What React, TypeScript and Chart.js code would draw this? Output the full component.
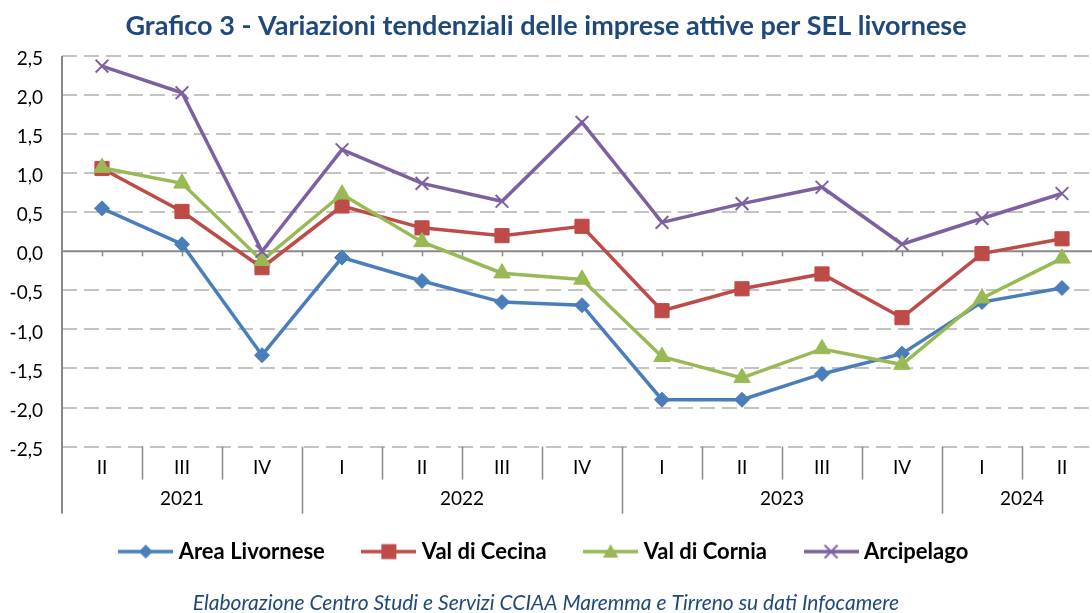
import React, { useEffect, useRef } from 'react';
import { Chart, registerables } from 'chart.js';

Chart.register(...registerables);

// ---- Data ----
const quarters = ['II', 'III', 'IV', 'I', 'II', 'III', 'IV', 'I', 'II', 'III', 'IV', 'I', 'II'];
const years = ['2021', '2022', '2023', '2024'];
const yearSizes = [3, 4, 4, 2];
const areaLivornese = [0.55, 0.09, -1.33, -0.08, -0.38, -0.65, -0.69, -1.9, -1.9, -1.57, -1.31, -0.65, -0.47];
const valDiCecina = [1.06, 0.51, -0.21, 0.58, 0.3, 0.2, 0.32, -0.76, -0.48, -0.29, -0.85, -0.03, 0.16];
const valDiCornia = [1.07, 0.87, -0.12, 0.73, 0.12, -0.28, -0.36, -1.35, -1.62, -1.25, -1.45, -0.6, -0.09];
const arcipelago = [2.37, 2.03, 0.0, 1.3, 0.87, 0.64, 1.65, 0.37, 0.61, 0.82, 0.09, 0.42, 0.74];
const seriesNames = ['Area Livornese', 'Val di Cecina', 'Val di Cornia', 'Arcipelago'];
const seriesColors = ['#4A7EBB', '#BE4B48', '#98B954', '#7D60A0'];
const yMin = -2.5;
const yMax = 2.5;
const yStep = 0.5;
const titleText = 'Grafico 3 - Variazioni tendenziali delle imprese attive per SEL livornese';
const sourceText = 'Elaborazione Centro Studi e Servizi CCIAA Maremma e Tirreno su dati Infocamere';

const FONT = 'Lato, "Open Sans", sans-serif';
const AXIS_COLOR = '#898989';

function drawMarker(ctx: CanvasRenderingContext2D, kind: number, cx: number, cy: number, color: string) {
  ctx.fillStyle = color;
  ctx.strokeStyle = color;
  ctx.beginPath();
  if (kind === 0) {
    const r = 7;
    ctx.moveTo(cx, cy - r);
    ctx.lineTo(cx + r, cy);
    ctx.lineTo(cx, cy + r);
    ctx.lineTo(cx - r, cy);
    ctx.closePath();
    ctx.fill();
  } else if (kind === 1) {
    const s = 7.5;
    ctx.rect(cx - s, cy - s, 2 * s, 2 * s);
    ctx.fill();
  } else if (kind === 2) {
    const r = 9;
    for (let k = 0; k < 3; k++) {
      const a = -Math.PI / 2 + (k * 2 * Math.PI) / 3;
      const px = cx + Math.cos(a) * r;
      const py = cy + 1.5 + Math.sin(a) * r;
      if (k === 0) ctx.moveTo(px, py);
      else ctx.lineTo(px, py);
    }
    ctx.closePath();
    ctx.fill();
  } else {
    const r = 6.5;
    ctx.lineWidth = 2;
    ctx.moveTo(cx - r, cy - r);
    ctx.lineTo(cx + r, cy + r);
    ctx.moveTo(cx + r, cy - r);
    ctx.lineTo(cx - r, cy + r);
    ctx.stroke();
  }
}

function makeLegendIcon(kind: number, color: string): HTMLCanvasElement {
  const c = document.createElement('canvas');
  c.width = 55;
  c.height = 22;
  const ctx = c.getContext('2d')!;
  ctx.strokeStyle = color;
  ctx.lineWidth = 3.5;
  ctx.beginPath();
  ctx.moveTo(0, 11);
  ctx.lineTo(55, 11);
  ctx.stroke();
  drawMarker(ctx, kind, 27.5, 11, color);
  return c;
}

const axisPlugin = {
  id: 'twoLevelAxis',
  beforeDatasetsDraw(chart: any) {
    const { ctx, chartArea, scales } = chart;
    const xs = scales.x;
    const ys = scales.y;
    const y0 = ys.getPixelForValue(0);
    const bottom = chartArea.bottom;
    ctx.save();
    ctx.strokeStyle = AXIS_COLOR;
    // zero axis line
    ctx.lineWidth = 2;
    ctx.beginPath();
    ctx.moveTo(chartArea.left, y0);
    ctx.lineTo(chartArea.right, y0);
    ctx.stroke();
    // small tick marks on zero line
    ctx.lineWidth = 1.5;
    for (let k = 1; k <= quarters.length * 2; k++) {
      const px = Math.round(xs.getPixelForValue(-0.5 + k * 0.5)) + 0.5;
      if (px > chartArea.right) continue;
      ctx.beginPath();
      ctx.moveTo(px, y0);
      ctx.lineTo(px, y0 + 5);
      ctx.stroke();
    }
    // left axis line, extended into the category area
    ctx.lineWidth = 2;
    ctx.beginPath();
    ctx.moveTo(chartArea.left, chartArea.top);
    ctx.lineTo(chartArea.left, bottom + 67);
    ctx.stroke();
    // separators
    const yearBounds: number[] = [];
    let acc = 0;
    yearSizes.forEach((n) => {
      acc += n;
      yearBounds.push(acc);
    });
    ctx.lineWidth = 1.5;
    for (let i = 1; i <= quarters.length; i++) {
      const px = Math.round(xs.getPixelForValue(i - 0.5)) + 0.5;
      if (px > chartArea.right) continue;
      const isYear = yearBounds.includes(i);
      ctx.beginPath();
      ctx.moveTo(px, bottom);
      ctx.lineTo(px, bottom + (isYear ? 67 : 33));
      ctx.stroke();
    }
    // labels
    ctx.fillStyle = '#000';
    ctx.textAlign = 'center';
    ctx.textBaseline = 'middle';
    ctx.font = `19px ${FONT}`;
    quarters.forEach((q, i) => {
      ctx.fillText(q, xs.getPixelForValue(i), bottom + 21);
    });
    let start = 0;
    years.forEach((yr, j) => {
      const n = yearSizes[j];
      const center = start + (n - 1) / 2;
      ctx.fillText(yr, xs.getPixelForValue(center), bottom + 52);
      start += n;
    });
    ctx.restore();
  },
};

export default function App() {
  const canvasRef = useRef<HTMLCanvasElement | null>(null);

  useEffect(() => {
    const canvas = canvasRef.current;
    if (!canvas) return;
    const seriesValues = [areaLivornese, valDiCecina, valDiCornia, arcipelago];
    const pointStyles = ['rectRot', 'rect', 'triangle', 'crossRot'];
    const pointRadii = [7.5, 10, 9.5, 9];
    const icons = seriesColors.map((c, i) => makeLegendIcon(i, c));

    const chart = new Chart(canvas, {
      type: 'line',
      data: {
        datasets: seriesValues.map((vals, i) => ({
          label: seriesNames[i],
          data: vals.map((v, k) => ({ x: k, y: v })),
          borderColor: seriesColors[i],
          backgroundColor: seriesColors[i],
          borderWidth: 3.5,
          pointStyle: pointStyles[i] as any,
          pointRadius: pointRadii[i],
          pointHoverRadius: pointRadii[i],
          pointBackgroundColor: seriesColors[i],
          pointBorderColor: seriesColors[i],
          pointBorderWidth: i === 3 ? 2 : 1,
          tension: 0,
          order: seriesNames.length - i,
          clip: false as any,
        })),
      },
      options: {
        animation: false,
        responsive: false,
        devicePixelRatio: 1,
        layout: { autoPadding: false, padding: { left: 0, right: 0, top: 0, bottom: 0 } },
        scales: {
          x: {
            type: 'linear',
            min: -0.5,
            max: 12.375,
            grid: { display: false },
            border: { display: false },
            ticks: { display: false },
            afterFit: (s: any) => {
              s.height = 52;
            },
          },
          y: {
            min: yMin,
            max: yMax,
            ticks: {
              stepSize: yStep,
              color: '#000',
              padding: 19,
              labelOffset: 3,
              font: { family: FONT, size: 19 },
              callback: (v: any) => Number(v).toFixed(1).replace('.', ','),
            },
            grid: {
              drawTicks: false,
              lineWidth: 2,
              color: (c: any) => (c.tick && Math.abs(c.tick.value) < 1e-9 ? 'rgba(0,0,0,0)' : '#C3C3C3'),
            },
            border: { display: false, dash: [15, 7] },
            afterFit: (s: any) => {
              s.width = 62;
            },
          },
        },
        plugins: {
          tooltip: { enabled: false },
          title: {
            display: true,
            text: titleText,
            color: '#1F497D',
            font: { family: FONT, size: 27, weight: 'bold' },
            padding: { top: 9.8, bottom: 13.8 },
          },
          subtitle: {
            display: true,
            position: 'bottom',
            text: sourceText,
            color: '#1F497D',
            font: { family: FONT, size: 21, style: 'italic', lineHeight: 0.9 },
            padding: { top: 21.5, bottom: 0 },
          },
          legend: {
            position: 'bottom',
            labels: {
              usePointStyle: true,
              pointStyleWidth: 44,
              padding: 42,
              color: '#000',
              font: { family: FONT, size: 22, weight: 'bold' },
              generateLabels: (ch: any) =>
                ch.data.datasets.map((ds: any, i: number) => ({
                  text: ds.label,
                  pointStyle: icons[i],
                  fillStyle: seriesColors[i],
                  strokeStyle: seriesColors[i],
                  lineWidth: 0,
                  hidden: false,
                  datasetIndex: i,
                })),
            },
          },
        },
      },
      plugins: [axisPlugin],
    } as any);

    return () => {
      chart.destroy();
    };
  }, []);

  return (
    <div style={{ position: 'absolute', left: 0, top: 0, width: 1092, height: 613, background: '#fff', overflow: 'hidden' }}>
      <canvas ref={canvasRef} width={1092} height={613} style={{ display: 'block', width: 1092, height: 613 }} />
    </div>
  );
}
